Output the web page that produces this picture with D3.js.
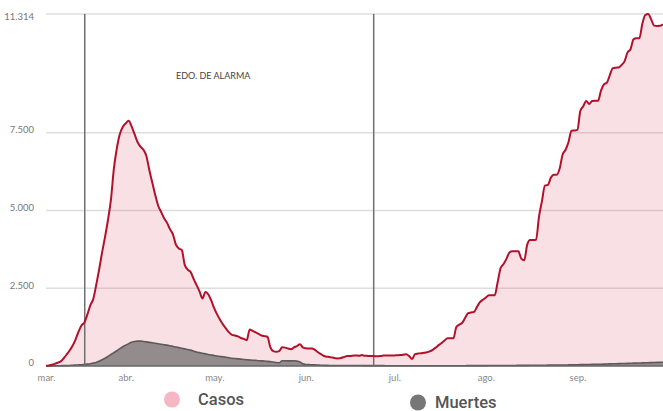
<!DOCTYPE html>
<html>
<head>
<meta charset="utf-8">
<script src="https://cdn.jsdelivr.net/npm/d3@7"></script>
<style>
  html, body { margin: 0; padding: 0; background: #fff; }
  svg { display: block; }
</style>
</head>
<body>
<svg id="chart" width="663" height="411"></svg>
<script>
// ---- Data ----
const startDate = "2020-03-05"; // first daily value
const casos = [
  10,20,40,70,110,150,250,370,500,650,
  850,1100,1300,1400,1650,1950,2150,2600,3100,3650,
  4150,4700,5350,6350,7000,7450,7680,7800,7880,7700,
  7450,7200,7050,6950,6750,6300,5900,5500,5150,4950,
  4750,4600,4400,4230,3900,3780,3730,3250,3100,3020,
  2800,2600,2400,2170,2380,2300,2100,1850,1650,1480,
  1330,1200,1080,1000,980,950,900,870,830,1175,
  1130,1080,1030,980,960,940,600,480,460,480,
  600,590,560,540,600,640,700,600,570,560,
  560,530,450,390,330,300,290,270,250,245,
  260,290,320,320,330,340,330,350,330,325,
  320,320,310,320,330,340,340,335,340,345,
  350,360,375,320,225,380,400,410,425,440,
  470,520,590,670,740,820,890,890,890,1250,
  1330,1390,1550,1700,1720,1740,1900,2050,2130,2200,
  2275,2275,2275,2700,3150,3280,3450,3650,3685,3685,
  3685,3450,3400,3900,4050,4050,4060,4800,5300,5800,
  5820,6050,6150,6150,6350,6800,6950,7200,7560,7570,
  7590,8200,8350,8520,8420,8520,8525,8525,8850,9050,
  9110,9350,9575,9590,9595,9680,9800,10080,10180,10500,
  10535,10535,11000,11280,11314,11140,10940,10930,10935,10985
];
const muertes = [
  0,2,3,5,8,10,12,15,18,25,
  30,35,40,50,60,75,95,115,150,200,
  250,310,370,430,490,560,620,670,720,760,
  790,800,800,790,775,760,745,730,715,700,
  685,670,650,630,610,590,570,550,530,510,
  480,450,430,410,390,370,355,340,320,305,
  295,280,265,250,240,230,220,210,200,195,
  185,180,170,165,160,150,140,130,115,105,
  170,170,165,165,170,160,130,70,50,45,
  40,35,30,25,20,20,18,18,17,16,
  16,15,15,14,14,15,15,14,13,13,
  12,12,12,11,11,10,10,10,10,9,
  9,9,9,8,8,8,8,8,7,7,
  7,8,8,9,9,8,8,9,9,9,
  10,10,10,11,11,11,12,12,13,13,
  14,14,15,15,16,16,17,17,18,18,
  19,20,20,21,22,22,23,24,25,26,
  27,28,29,30,31,32,33,35,37,39,
  41,43,45,47,49,51,53,55,58,61,
  64,67,70,73,76,79,82,85,88,91,
  94,97,100,103,106,109,112,115,118,120
];
const yTicks = [0, 2500, 5000, 7500, 11314];
const xTickDates = ["2020-03-01","2020-04-01","2020-05-01","2020-06-01","2020-07-01","2020-08-01","2020-09-01"];
const xTickLabels = ["mar.","abr.","may.","jun.","jul.","ago.","sep."];
const eventDates = ["2020-03-18T03:00:00Z","2020-06-24T00:00:00Z"];
const eventLabel = "EDO. DE ALARMA";
const seriesNames = ["Casos","Muertes"];

// ---- Build ----
const parseD = s => new Date(s.length === 10 ? s + "T00:00:00Z" : s);
const start = parseD(startDate);
const rows = casos.map((c, i) => ({ date: d3.utcDay.offset(start, i), casos: c, muertes: muertes[i] }));

const svg = d3.select("#chart");
const M = { left: 46, right: 663, top: 14, bottom: 366 };

const x = d3.scaleUtc()
  .domain([rows[0].date, rows[rows.length - 1].date])
  .range([M.left, M.right])
  .clamp(true);
const y = d3.scaleLinear().domain([0, 11314]).range([M.bottom, M.top]);

const es = d3.formatLocale({ decimal: ",", thousands: ".", grouping: [3], currency: ["", "€"] });
const fmt = es.format(",d");

// Grid lines
svg.append("g").selectAll("line")
  .data(yTicks.filter(d => d > 0))
  .join("line")
  .attr("x1", M.left).attr("x2", M.right)
  .attr("y1", d => y(d)).attr("y2", d => y(d))
  .attr("stroke", "#dedede").attr("stroke-width", 1.5);

// Y labels
svg.append("g").selectAll("text")
  .data(yTicks)
  .join("text")
  .attr("x", 34)
  .attr("y", d => d === 11314 ? y(d) + 3 : y(d) - 3)
  .attr("dy", "0.35em")
  .attr("text-anchor", "end")
  .attr("font-family", "Lato, 'Open Sans', sans-serif")
  .attr("font-size", 9.5)
  .attr("fill", "#777")
  .text(d => fmt(d));

// Cases area
svg.append("path")
  .datum(rows)
  .attr("fill", "#d9455f")
  .attr("fill-opacity", 0.17)
  .attr("d", d3.area().x(d => x(d.date)).y0(y(0)).y1(d => y(d.casos)).curve(d3.curveMonotoneX));

// Deaths area
svg.append("path")
  .datum(rows)
  .attr("fill", "#938b8c")
  .attr("d", d3.area().x(d => x(d.date)).y0(y(0)).y1(d => y(d.muertes)).curve(d3.curveMonotoneX));
svg.append("path")
  .datum(rows)
  .attr("fill", "none")
  .attr("stroke", "#5f5a5a")
  .attr("stroke-width", 1.6)
  .attr("d", d3.line().x(d => x(d.date)).y(d => y(d.muertes)).curve(d3.curveMonotoneX));

// Baseline
svg.append("line")
  .attr("x1", M.left).attr("x2", M.right)
  .attr("y1", y(0)).attr("y2", y(0))
  .attr("stroke", "#666").attr("stroke-width", 1.6);

// Event lines
svg.append("g").selectAll("line")
  .data(eventDates.map(parseD))
  .join("line")
  .attr("x1", d => x(d)).attr("x2", d => x(d))
  .attr("y1", M.top).attr("y2", M.bottom)
  .attr("stroke", "#707070").attr("stroke-width", 1.5);

svg.append("text")
  .attr("x", 176)
  .attr("y", 76)
  .attr("dy", "0.35em")
  .attr("font-family", "Lato, 'Open Sans', sans-serif")
  .attr("font-size", 9)
  .attr("fill", "#444")
  .text(eventLabel);

// Cases line
svg.append("path")
  .datum(rows)
  .attr("fill", "none")
  .attr("stroke", "#b3102c")
  .attr("stroke-width", 2)
  .attr("stroke-linejoin", "round")
  .attr("d", d3.line().x(d => x(d.date)).y(d => y(d.casos)).curve(d3.curveMonotoneX));

// X axis
const xAxis = d3.axisBottom(x)
  .tickValues(xTickDates.map(parseD))
  .tickFormat((d, i) => xTickLabels[i])
  .tickSize(0)
  .tickPadding(0);
const gx = svg.append("g").attr("transform", `translate(0,${M.bottom + 8})`).call(xAxis);
gx.select(".domain").remove();
gx.selectAll("text")
  .attr("font-family", "Lato, 'Open Sans', sans-serif")
  .attr("font-size", 9.5)
  .attr("fill", "#888")
  .attr("dy", "0.71em");

// Legend
const legend = [
  { name: seriesNames[0], color: "#f4b7c3", cx: 172, tx: 198, cy: 399.5 },
  { name: seriesNames[1], color: "#777777", cx: 418, tx: 435, cy: 402.5 }
];
const lg = svg.append("g").selectAll("g").data(legend).join("g");
lg.append("circle").attr("cx", d => d.cx).attr("cy", d => d.cy).attr("r", 8).attr("fill", d => d.color);
lg.append("text")
  .attr("x", d => d.tx).attr("y", d => d.cy).attr("dy", "0.35em")
  .attr("font-family", "Roboto, 'Liberation Sans', sans-serif")
  .attr("font-weight", 500)
  .attr("font-size", 16.5)
  .attr("fill", "#555")
  .text(d => d.name);
</script>
</body>
</html>
